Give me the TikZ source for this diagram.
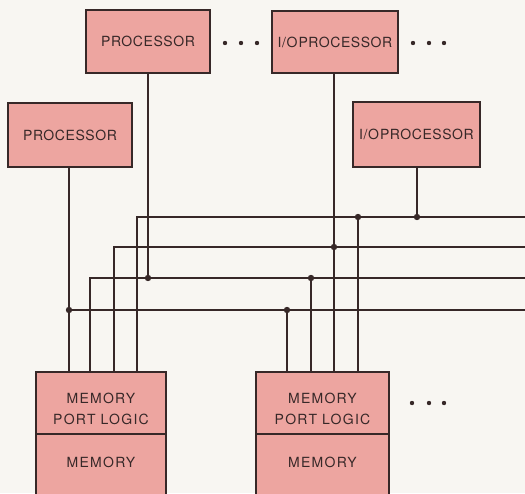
\documentclass[tikz,border=0pt]{standalone}
\usepackage{fontspec}
\setmainfont{TeX Gyre Heros}
\definecolor{boxfill}{RGB}{237,165,160}
\definecolor{ink}{RGB}{55,40,40}
\definecolor{paper}{RGB}{248,246,242}
\begin{document}
\begin{tikzpicture}[x=1pt,y=-1pt,
  unit/.style={draw=ink, line width=1.3pt, fill=boxfill, text=ink,
    font=\fontsize{14}{21}\selectfont\addfontfeature{LetterSpace=4}, inner sep=0pt},
  memunit/.style={unit, font=\fontsize{14}{21}\selectfont\addfontfeature{LetterSpace=9}, align=center},
  wire/.style={draw=ink, line width=1.05pt},
  junc/.style={fill=ink},
  ell/.style={fill=ink}]
\clip (0,0) rectangle (525,493);
\fill[paper] (0,0) rectangle (525,493);

% processors
\node[unit, minimum width=124pt, minimum height=63pt] (p1) at (148,41.5) {PROCESSOR};
\node[unit, minimum width=126pt, minimum height=62pt] (io1) at (335,42) {I/O\kern1pt PROCESSOR};
\node[unit, minimum width=124pt, minimum height=64pt] (p2) at (70,135) {PROCESSOR};
\node[unit, minimum width=127pt, minimum height=65pt] (io2) at (416.5,134.5) {I/O\kern1pt PROCESSOR};

% memories
\node[memunit, minimum width=130pt, minimum height=62pt, text height=43pt, text depth=0pt] (pl1) at (101,403) {MEMORY\\PORT LOGIC};
\node[memunit, minimum width=130pt, minimum height=70pt, text depth=14pt] (m1) at (101,469) {MEMORY};
\node[memunit, minimum width=133pt, minimum height=62pt, text height=43pt, text depth=0pt] (pl2) at (322.5,403) {MEMORY\\PORT LOGIC};
\node[memunit, minimum width=133pt, minimum height=70pt, text depth=14pt] (m2) at (322.5,469) {MEMORY};

% bus corners and right ends
\coordinate (b1l) at (137,217); \coordinate (b1r) at (530,217);
\coordinate (b2l) at (114,247); \coordinate (b2r) at (530,247);
\coordinate (b3l) at (90,278);  \coordinate (b3r) at (530,278);
\coordinate (b4l) at (69,310);  \coordinate (b4r) at (530,310);

% junctions
\coordinate (jp1) at (p1.south |- b3l);
\coordinate (jio1) at (334,247);
\coordinate (jio2) at (417,217);
\coordinate (jp2) at (69,310);
\coordinate (jm2a) at (287,310);
\coordinate (jm2b) at (311,278);
\coordinate (jm2d) at (358,217);

% buses
\draw[wire] (b1r) -- (b1l) -- (b1l |- pl1.north);
\draw[wire] (b2r) -- (b2l) -- (b2l |- pl1.north);
\draw[wire] (b3r) -- (b3l) -- (b3l |- pl1.north);
\draw[wire] (b4r) -- (b4l);

% processor drops
\draw[wire] (p2.south -| jp2) -- (jp2 |- pl1.north);
\draw[wire] (p1.south) -- (jp1);
\draw[wire] (io1.south -| jio1) -- (jio1 |- pl2.north);
\draw[wire] (io2.south -| jio2) -- (jio2);

% memory 2 drops
\draw[wire] (jm2a) -- (jm2a |- pl2.north);
\draw[wire] (jm2b) -- (jm2b |- pl2.north);
\draw[wire] (jm2d) -- (jm2d |- pl2.north);

% junction dots
\foreach \j in {jp1,jio1,jio2,jp2,jm2a,jm2b,jm2d}
  \fill[junc] (\j) circle (3.2pt);

% ellipses
\foreach \x in {225,241,257,413,429,444} \fill[ell] (\x,43) circle (2.2pt);
\foreach \x in {412,429,444} \fill[ell] (\x,403) circle (2.2pt);
\end{tikzpicture}
\end{document}
